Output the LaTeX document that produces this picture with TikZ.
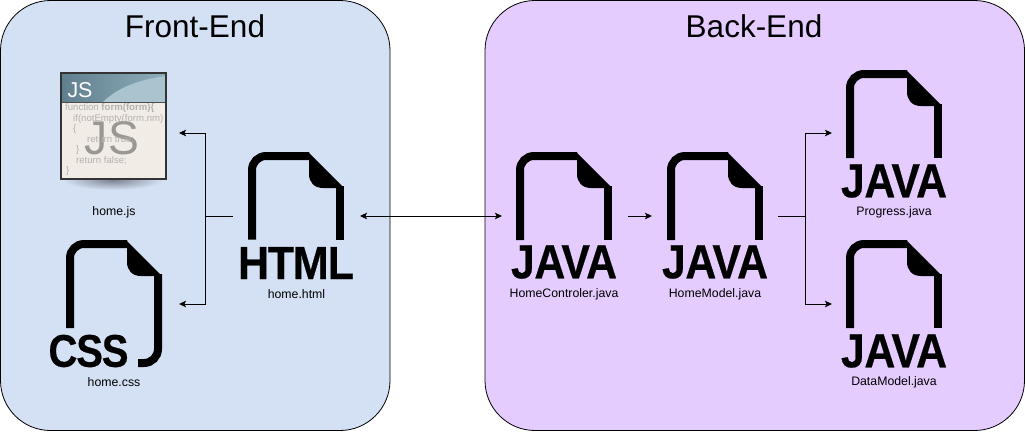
\documentclass[tikz,border=0pt]{standalone}
\usepackage{fontspec}
\setmainfont{Liberation Sans}
\newfontfamily\heavyfont{Liberation Sans Bold}[FakeBold=0.5]
\usetikzlibrary{arrows.meta}
\definecolor{frontbg}{HTML}{D4E1F5}
\definecolor{backbg}{HTML}{E5CCFF}
\definecolor{jsbody}{HTML}{F1ECE6}
\definecolor{jsheadl}{HTML}{5F7F8E}
\definecolor{jsheadr}{HTML}{8FAEBB}
\definecolor{jsswoosh}{HTML}{A9C4CF}
\tikzset{
  panel/.style={draw=black,line width=0.8pt,rounded corners=50pt},
  paneltitle/.style={font=\fontsize{31.5}{34}\selectfont,inner sep=0pt},
  filelabel/.style={font=\fontsize{12.3}{14}\selectfont,inner sep=0pt},
  bigtype/.style={inner sep=0pt},
  link/.style={draw=black,line width=0.9pt},
  tip/.style={-{Stealth[length=7pt,width=6.5pt,inset=1.5pt]}},
  tips/.style={{Stealth[length=7pt,width=6.5pt,inset=1.5pt]}-{Stealth[length=7pt,width=6.5pt,inset=1.5pt]}},
  codeline/.style={font=\fontsize{9.6}{11}\selectfont,text=black!25!jsbody,inner sep=0pt,anchor=west},
}
\newcommand{\javaword}{\heavyfont J\kern-.01em A\kern-.09em V\kern-.09em A}
\newcommand{\htmlword}{\heavyfont H\kern-.03em T\kern-.03em M\kern-.02em L}
\newcommand{\cssword}{\heavyfont C\kern-.03em S\kern-.03em S}
% file icon: left, top, stroke height
\newcommand{\fileicon}[3]{%
  \begin{scope}[shift={(#1,#2)}]
    \draw[line width=8pt,black] (4,#3) -- (4,18) arc[start angle=180,end angle=90,radius=14pt] -- (61,4);
    \draw[line width=8pt,black] (92,34) -- (92,#3);
    \fill[black] (60,0) -- (96,36) -- (75,36) .. controls (66,36) and (61,30) .. (61,22) -- (61,0) -- cycle;
  \end{scope}}
\begin{document}
\begin{tikzpicture}[x=1pt,y=-1pt]
\useasboundingbox (0,0) rectangle (1025,431);
\fill[white] (0,0) rectangle (1025,431);
\path[panel,fill=frontbg] (0.5,0.5) rectangle (390,430.5);
\path[panel,fill=backbg] (485,0.5) rectangle (1024.5,430.5);
\node[paneltitle] (fronttitle) at (195,26) {Front-End};
\node[paneltitle] (backtitle) at (754,26) {Back-End};

% JS picture
\shade[inner color=black!42!frontbg,outer color=frontbg] (113,180) ellipse[x radius=50pt,y radius=10pt];
\fill[frontbg] (55,168) rectangle (172,179);
\fill[jsbody] (61,73) rectangle (166,179);
\shade[left color=jsheadl,right color=jsheadr] (61,73) rectangle (166,102);
\fill[jsswoosh] (166,76) .. controls (135,80) and (115,90) .. (103,102) -- (166,102) -- cycle;
\draw[black!70,line width=0.9pt] (61,102) -- (166,102);
\node[inner sep=0pt,text=white] (jshead) at (80,90) {\resizebox{25pt}{15pt}{JS}};
\node[inner sep=0pt,text=black!36!jsbody] (jsbig) at (112,138) {\resizebox{54pt}{33pt}{JS}};
\node[codeline] (c1) at (65,108) {function \textbf{form(form)\{}};
\node[codeline] (c2) at (73,119) {if(notEmpty(form.nm)};
\node[codeline] (c3) at (73,129) {\{};
\node[codeline] (c4) at (87,140) {return true;};
\node[codeline] (c5) at (76,150) {\}};
\node[codeline] (c6) at (76,161) {return false;};
\node[codeline] (c7) at (66,171) {\}};
\draw[black!80,line width=1.6pt] (61,73) rectangle (166,179);
\node[filelabel] (homejs) at (114,212.5) {home.js};

% CSS icon
\begin{scope}[shift={(66,240)}]
  \draw[line width=8pt,black] (4,88) -- (4,18) arc[start angle=180,end angle=90,radius=14pt] -- (61,4);
  \draw[line width=8pt,black] (92,34) -- (92,109) arc[start angle=0,end angle=-90,radius=14pt] -- (72,123);
  \fill[black] (60,0) -- (96,36) -- (75,36) .. controls (66,36) and (61,30) .. (61,22) -- (61,0) -- cycle;
\end{scope}
\node[bigtype] (csstype) at (88.5,351) {\resizebox{80pt}{32pt}{\cssword}};
\node[filelabel] (homecss) at (114,382.5) {home.css};

% HTML icon
\fileicon{248}{152}{87.5}
\node[bigtype] (htmltype) at (296,263) {\resizebox{116pt}{32pt}{\htmlword}};
\node[filelabel] (homehtml) at (296.5,294) {home.html};

% Java icons
\fileicon{516}{152}{88}
\node[bigtype] (jt1) at (564,262) {\resizebox{106pt}{33pt}{\javaword}};
\node[filelabel] (hc) at (564,294) {HomeControler.java};

\fileicon{667}{152}{88}
\node[bigtype] (jt2) at (715,262) {\resizebox{106pt}{33pt}{\javaword}};
\node[filelabel] (hm) at (715,294) {HomeModel.java};

\fileicon{846}{70}{88}
\node[bigtype] (jt3) at (894,181) {\resizebox{106pt}{33pt}{\javaword}};
\node[filelabel] (pj) at (894,212.5) {Progress.java};

\fileicon{846}{240}{88}
\node[bigtype] (jt4) at (894,351) {\resizebox{106pt}{33pt}{\javaword}};
\node[filelabel] (dm) at (894,382.5) {DataModel.java};

% connector ends
\coordinate (fs) at (233,216);
\coordinate (fm) at (205,216);
\coordinate (fjs) at (179,133);
\coordinate (fcss) at (179,304);
\coordinate (da) at (360,216);
\coordinate (db) at (502,216);
\coordinate (ma) at (628,216);
\coordinate (mb) at (652,216);
\coordinate (bs) at (778,216);
\coordinate (bm) at (805,216);
\coordinate (bp) at (832,133);
\coordinate (bd) at (832,304);

\draw[link] (fs) -- (fm);
\draw[link,tip] (fm) |- (fjs);
\draw[link,tip] (fm) |- (fcss);
\draw[link,tips] (da) -- (db);
\draw[link,tip] (ma) -- (mb);
\draw[link] (bs) -- (bm);
\draw[link,tip] (bm) |- (bp);
\draw[link,tip] (bm) |- (bd);
\end{tikzpicture}
\end{document}
